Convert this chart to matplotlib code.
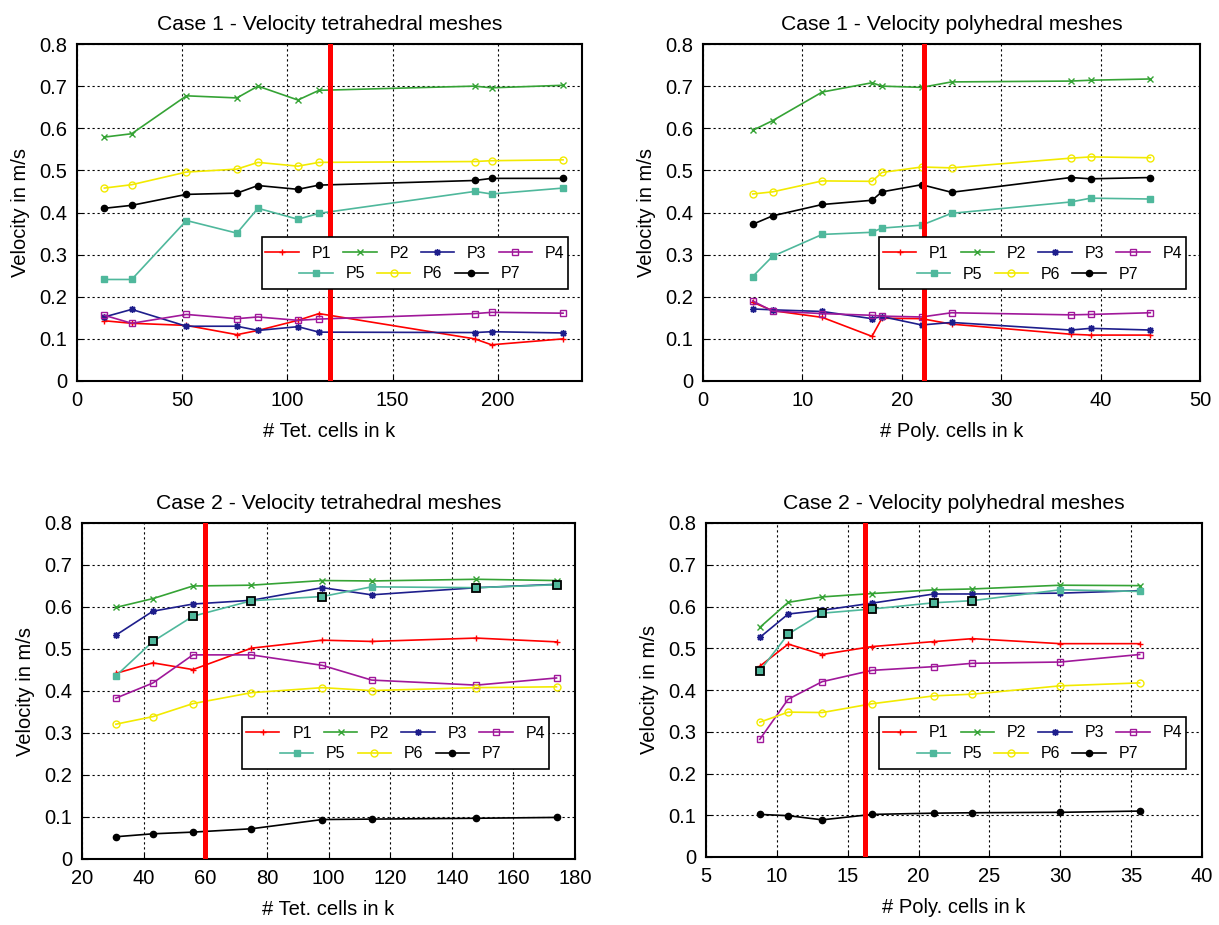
import matplotlib.pyplot as plt
from matplotlib.patches import Rectangle

plt.rcParams['font.family'] = ['Liberation Sans', 'DejaVu Sans']
plt.rcParams['font.size'] = 14.5

names = ['P1', 'P2', 'P3', 'P4', 'P5', 'P6', 'P7']

# case 1, tetrahedral meshes
c1_tet_x = [13, 26, 52, 76, 86, 105, 115, 189, 197, 231]
c1_tet = [
    [0.143, 0.137, 0.132, 0.110, 0.120, 0.144, 0.160, 0.100, 0.086, 0.100],
    [0.579, 0.587, 0.677, 0.672, 0.700, 0.667, 0.690, 0.700, 0.696, 0.702],
    [0.152, 0.170, 0.130, 0.130, 0.120, 0.129, 0.116, 0.115, 0.117, 0.114],
    [0.156, 0.137, 0.158, 0.148, 0.152, 0.144, 0.147, 0.160, 0.163, 0.161],
    [0.241, 0.241, 0.381, 0.351, 0.410, 0.384, 0.398, 0.450, 0.444, 0.458],
    [0.458, 0.466, 0.496, 0.503, 0.519, 0.510, 0.519, 0.521, 0.523, 0.525],
    [0.410, 0.417, 0.443, 0.446, 0.464, 0.455, 0.465, 0.476, 0.481, 0.481],
]

# case 1, polyhedral meshes
c1_poly_x = [5, 7, 12, 17, 18, 22, 25, 37, 39, 45]
c1_poly = [
    [0.187, 0.167, 0.151, 0.106, 0.149, 0.148, 0.135, 0.111, 0.109, 0.109],
    [0.595, 0.618, 0.686, 0.708, 0.700, 0.697, 0.710, 0.712, 0.714, 0.717],
    [0.171, 0.169, 0.165, 0.148, 0.153, 0.133, 0.139, 0.121, 0.125, 0.121],
    [0.190, 0.166, 0.160, 0.156, 0.154, 0.152, 0.162, 0.157, 0.158, 0.162],
    [0.248, 0.296, 0.348, 0.353, 0.363, 0.370, 0.398, 0.425, 0.434, 0.432],
    [0.444, 0.449, 0.475, 0.474, 0.495, 0.508, 0.506, 0.529, 0.532, 0.530],
    [0.372, 0.392, 0.419, 0.429, 0.449, 0.466, 0.448, 0.483, 0.480, 0.483],
]

# case 2, tetrahedral meshes
c2_tet_x = [31, 43, 56, 75, 98, 114, 148, 174]
c2_tet = [
    [0.442, 0.467, 0.451, 0.502, 0.521, 0.518, 0.526, 0.517],
    [0.599, 0.620, 0.650, 0.652, 0.663, 0.662, 0.666, 0.663],
    [0.533, 0.590, 0.607, 0.616, 0.646, 0.629, 0.646, 0.654],
    [0.383, 0.419, 0.486, 0.486, 0.461, 0.426, 0.414, 0.431],
    [0.436, 0.518, 0.578, 0.615, 0.625, 0.648, 0.646, 0.653],
    [0.321, 0.339, 0.370, 0.396, 0.408, 0.401, 0.408, 0.410],
    [0.053, 0.060, 0.064, 0.072, 0.094, 0.095, 0.097, 0.099],
]

# case 2, polyhedral meshes
c2_poly_x = [8.8, 10.8, 13.2, 16.7, 21.1, 23.8, 30.0, 35.6]
c2_poly = [
    [0.457, 0.510, 0.485, 0.504, 0.516, 0.523, 0.511, 0.511],
    [0.550, 0.610, 0.623, 0.631, 0.640, 0.642, 0.651, 0.650],
    [0.526, 0.582, 0.591, 0.608, 0.630, 0.630, 0.632, 0.638],
    [0.282, 0.378, 0.420, 0.447, 0.456, 0.464, 0.467, 0.485],
    [0.446, 0.534, 0.584, 0.594, 0.609, 0.614, 0.640, 0.636],
    [0.323, 0.347, 0.346, 0.367, 0.386, 0.390, 0.410, 0.417],
    [0.102, 0.099, 0.089, 0.102, 0.105, 0.106, 0.107, 0.110],
]

titles = ['Case 1 - Velocity tetrahedral meshes', 'Case 1 - Velocity polyhedral meshes',
          'Case 2 - Velocity tetrahedral meshes', 'Case 2 - Velocity polyhedral meshes']
xlabels = ['# Tet. cells in k', '# Poly. cells in k', '# Tet. cells in k', '# Poly. cells in k']
ref_lines = [120, 22.2, 60, 16.2]
xlims = [(0, 240), (0, 50), (20, 180), (5, 40)]
xsteps = [50, 10, 20, 5]

colors = ['#ff0000', '#35a335', '#1e1e8c', '#a0189a', '#4fb89c', '#f2ea00', '#000000']
markers = ['+', 'x', (8, 2, 0), 's', 's', 'o', 'o']
filled = [True, True, True, False, True, False, True]

W, H = 1219, 925
fig = plt.figure(figsize=(W / 100, H / 100), dpi=100)

boxes = [(77, 44, 582, 381), (703, 44, 1200, 381), (82, 523, 575, 859), (706, 523, 1202, 857)]
leg_boxes = [(0.366, 0.273, 0.972, 0.427), (0.355, 0.272, 0.971, 0.428),
             (0.325, 0.268, 0.947, 0.423), (0.349, 0.263, 0.967, 0.420)]
# points of P5 that show a black outline in the original
outlined = [[], [], [1, 2, 3, 4, 6, 7], [0, 1, 2, 3, 4, 5]]

panels = [(c1_tet_x, c1_tet), (c1_poly_x, c1_poly), (c2_tet_x, c2_tet), (c2_poly_x, c2_poly)]

for i, (xs, series) in enumerate(panels):
    l, t, r, b = boxes[i]
    ax = fig.add_axes([l / W, 1 - b / H, (r - l) / W, (b - t) / H])
    handles = []
    for k, ys in enumerate(series):
        h, = ax.plot(xs, ys, color=colors[k], marker=markers[k], lw=1.2, ms=5 if k != 6 else 4.5,
                     mfc=colors[k] if filled[k] else 'none', mec=colors[k], mew=1.0, label=names[k])
        handles.append(h)
    if outlined[i]:
        ax.plot([xs[j] for j in outlined[i]], [series[4][j] for j in outlined[i]], ls='none',
                marker='s', ms=5.5, mfc=colors[4], mec='black', mew=1.3)
    ax.axvline(ref_lines[i], color='#ff0000', lw=3.6, zorder=3)

    ax.set_xlim(*xlims[i])
    ax.set_ylim(0, 0.8)
    lo, hi = xlims[i]
    ax.set_xticks(range(lo, hi + 1, xsteps[i]))
    ax.set_yticks([0, 0.1, 0.2, 0.3, 0.4, 0.5, 0.6, 0.7, 0.8])
    ax.set_yticklabels(['0', '0.1', '0.2', '0.3', '0.4', '0.5', '0.6', '0.7', '0.8'])
    ax.grid(True, color='black', ls=(0, (2, 2.5)), lw=0.8)
    ax.tick_params(direction='in', length=4, pad=7)
    for s in ax.spines.values():
        s.set_linewidth(1.5)
    ax.set_title(titles[i], pad=10, fontsize=15.2)
    ax.set_xlabel(xlabels[i], labelpad=9)
    ax.set_ylabel('Velocity in m/s', labelpad=7)

    x0, y0, x1, y1 = leg_boxes[i]
    ax.add_patch(Rectangle((x0, y0), x1 - x0, y1 - y0, transform=ax.transAxes,
                           facecolor='white', edgecolor='black', lw=1.2, zorder=4.9))
    cx = (x0 + x1) / 2
    kw = dict(frameon=False, loc='center', handlelength=2.1, handletextpad=0.8,
              columnspacing=0.75, borderpad=0, fontsize=11.5)
    leg1 = ax.legend(handles=handles[:4], ncol=4, bbox_to_anchor=(cx, y0 + 0.69 * (y1 - y0)), **kw)
    ax.add_artist(leg1)
    ax.legend(handles=handles[4:], ncol=3, bbox_to_anchor=(cx - 0.01, y0 + 0.29 * (y1 - y0)), **kw)

fig.savefig('out.png', dpi=100)
